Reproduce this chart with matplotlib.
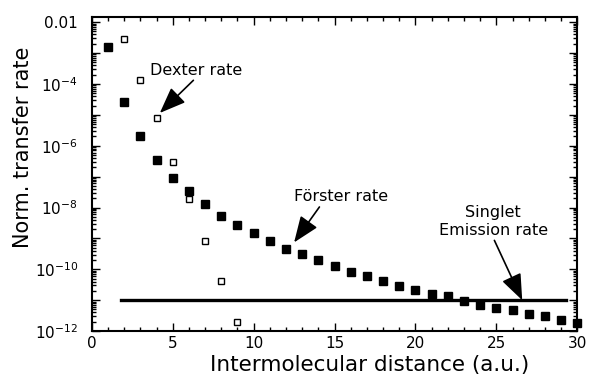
import matplotlib
matplotlib.use("Agg")
import matplotlib.pyplot as plt
import numpy as np
from matplotlib.ticker import FixedLocator, LogLocator, NullFormatter, FixedFormatter

plt.rcParams.update({"font.family": "DejaVu Sans", "mathtext.fontset": "dejavusans"})

# Förster rate (filled markers), x = 1..30, log10 of normalized rate
forster_x = np.arange(1, 31)
forster_log = [-2.8, -4.6, -5.68, -6.45, -7.03, -7.48, -7.9, -8.29, -8.58, -8.84,
               -9.1, -9.35, -9.52, -9.71, -9.9, -10.1, -10.23, -10.39, -10.55, -10.68,
               -10.81, -10.87, -11.03, -11.16, -11.26, -11.32, -11.45, -11.52, -11.65, -11.74]

# Dexter rate (open markers)
dexter_x = np.arange(2, 10)
dexter_log = [-2.55, -3.87, -5.1, -6.52, -7.74, -9.1, -10.39, -11.7]

# singlet emission rate
singlet_rate = 1e-11
singlet_x = [1.8, 29.3]

fig = plt.figure(figsize=(5.89, 3.81), dpi=100)
ax = fig.add_axes([0.156, 0.131, 0.824, 0.824])

ax.plot(forster_x, 10.0 ** np.array(forster_log), ls="none", marker="s",
        ms=5.2, color="black", clip_on=False, zorder=3)
ax.plot(dexter_x, 10.0 ** np.array(dexter_log), ls="none", marker="s",
        ms=4.5, mfc="white", mec="black", mew=1, clip_on=False, zorder=3)
ax.plot(singlet_x, [singlet_rate, singlet_rate], color="black", lw=2.4)

ax.set_yscale("log")
ax.set_xlim(0, 30)
ax.set_ylim(1e-12, 1.45e-2)

ax.xaxis.set_major_locator(FixedLocator([0, 5, 10, 15, 20, 25, 30]))
ax.xaxis.set_minor_locator(FixedLocator(np.arange(0, 31)))
ax.yaxis.set_major_locator(FixedLocator([10.0 ** k for k in range(-12, -1)]))
ax.yaxis.set_major_formatter(FixedFormatter(
    ["$10^{-12}$", "", "$10^{-10}$", "", "$10^{-8}$", "", "$10^{-6}$", "", "$10^{-4}$", "", "0.01"]))
ax.yaxis.set_minor_locator(LogLocator(base=10, subs=np.arange(2, 10), numticks=20))
ax.yaxis.set_minor_formatter(NullFormatter())

ax.tick_params(which="both", direction="in", top=True, right=True, labelsize=11, width=1)
ax.tick_params(which="major", length=6)
ax.tick_params(which="minor", length=3)
ax.tick_params(axis="y", which="major", pad=10)
for s in ax.spines.values():
    s.set_linewidth(1.5)

ax.set_xlabel("Intermolecular distance (a.u.)", fontsize=15.5)
ax.set_ylabel("Norm. transfer rate", fontsize=15)
ax.xaxis.set_label_coords(0.573, -0.075)
ax.yaxis.set_label_coords(-0.122, 0.586)

arrow = dict(arrowstyle="-|>,head_length=1.4,head_width=0.55", color="black", lw=1.2,
             shrinkA=0, shrinkB=0)
ax.annotate("Dexter rate", xy=(4.2, 10 ** -4.94), xytext=(3.6, 10 ** -3.55),
            fontsize=11.5, va="center", ha="left",
            arrowprops=dict(arrow, relpos=(0.5, 0)))
ax.annotate("Förster rate", xy=(12.5, 10 ** -9.13), xytext=(12.5, 10 ** -7.65),
            fontsize=11.5, va="center", ha="left",
            arrowprops=dict(arrow, relpos=(0.29, 0)))
ax.annotate("Singlet\nEmission rate", xy=(26.6, 10 ** -11.0), xytext=(24.8, 10 ** -8.45),
            fontsize=11.5, va="center", ha="center", linespacing=1.2,
            arrowprops=dict(arrow, relpos=(0.5, 0)))

fig.savefig("out.png", dpi=100)
